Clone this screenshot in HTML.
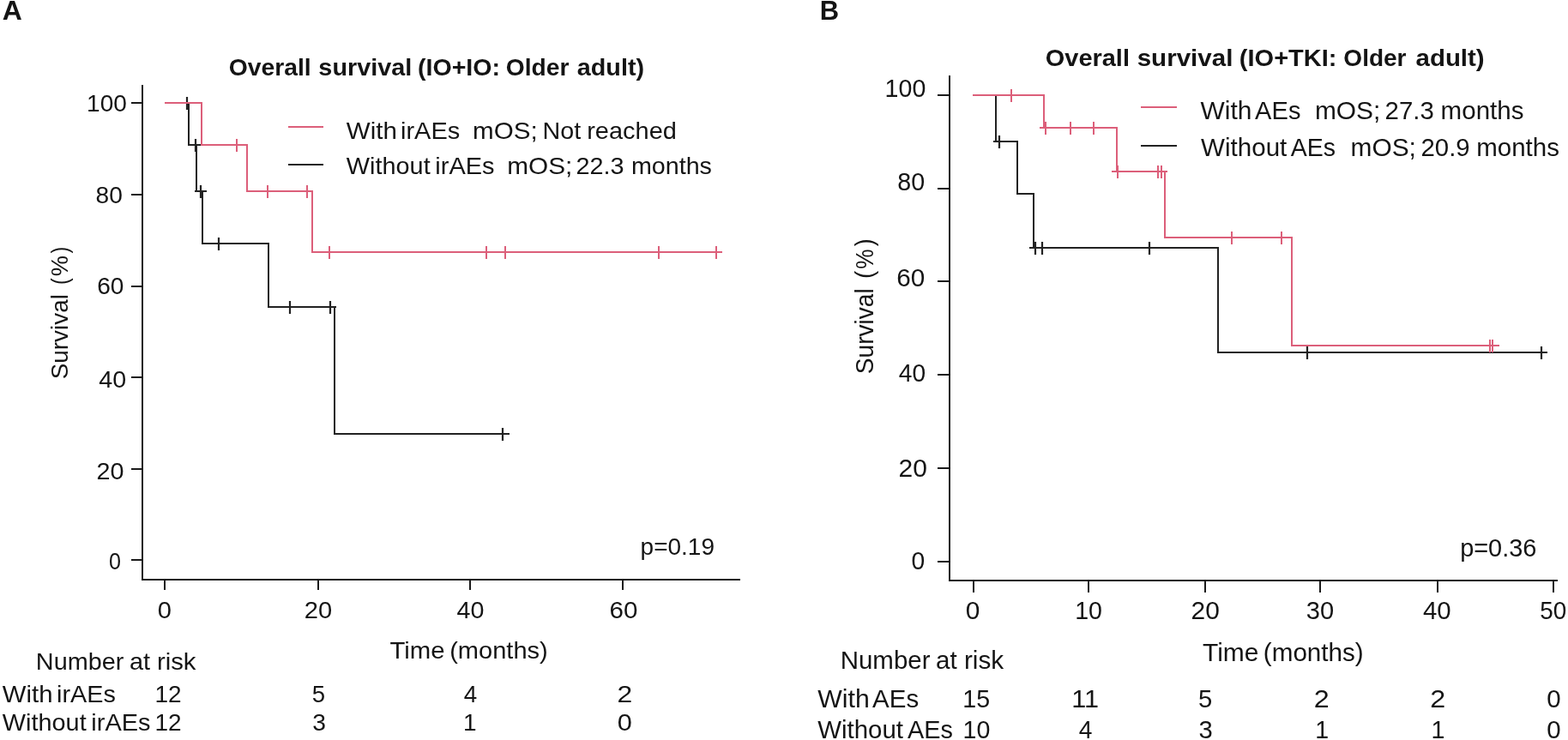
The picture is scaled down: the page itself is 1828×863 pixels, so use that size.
<!DOCTYPE html>
<html><head><meta charset="utf-8"><title>Overall survival (IO+IO / IO+TKI: Older adult)</title>
<style>
html,body{margin:0;padding:0;background:#fff;}
body{width:1828px;height:863px;overflow:hidden;}
svg{display:block;}
text{font-family:"Liberation Sans", Arial, sans-serif;fill:#141414;}
</style></head><body>
<svg width="1828" height="863" viewBox="0 0 1828 863">
<rect width="1828" height="863" fill="#fff"/>
<text x="2.71" y="22.8" font-size="31.5" font-weight="bold" textLength="23.04" lengthAdjust="spacingAndGlyphs">A</text>
<text x="266.64" y="87.6" font-size="28.5" font-weight="bold" textLength="96.07" lengthAdjust="spacingAndGlyphs">Overall</text>
<text x="371.39" y="87.6" font-size="28.5" font-weight="bold" textLength="108.95" lengthAdjust="spacingAndGlyphs">survival</text>
<text x="486.98" y="87.6" font-size="28.5" font-weight="bold" textLength="96.07" lengthAdjust="spacingAndGlyphs">(IO+IO:</text>
<text x="589.84" y="87.6" font-size="28.5" font-weight="bold" textLength="73.58" lengthAdjust="spacingAndGlyphs">Older</text>
<text x="672.86" y="87.6" font-size="28.5" font-weight="bold" textLength="78.17" lengthAdjust="spacingAndGlyphs">adult)</text>
<line x1="166" y1="99" x2="166" y2="677" stroke="#1a1a1a" stroke-width="2"/>
<line x1="165" y1="676" x2="863" y2="676" stroke="#1a1a1a" stroke-width="2"/>
<line x1="153" y1="120" x2="166" y2="120" stroke="#1a1a1a" stroke-width="2"/>
<line x1="153" y1="227" x2="166" y2="227" stroke="#1a1a1a" stroke-width="2"/>
<line x1="153" y1="334" x2="166" y2="334" stroke="#1a1a1a" stroke-width="2"/>
<line x1="153" y1="440" x2="166" y2="440" stroke="#1a1a1a" stroke-width="2"/>
<line x1="153" y1="547" x2="166" y2="547" stroke="#1a1a1a" stroke-width="2"/>
<line x1="153" y1="653" x2="166" y2="653" stroke="#1a1a1a" stroke-width="2"/>
<line x1="192" y1="676" x2="192" y2="688" stroke="#1a1a1a" stroke-width="2"/>
<line x1="371" y1="676" x2="371" y2="688" stroke="#1a1a1a" stroke-width="2"/>
<line x1="548" y1="676" x2="548" y2="688" stroke="#1a1a1a" stroke-width="2"/>
<line x1="726" y1="676" x2="726" y2="688" stroke="#1a1a1a" stroke-width="2"/>
<text x="101.12" y="130.3" font-size="28.0" textLength="46.72" lengthAdjust="spacingAndGlyphs">100</text>
<text x="111.58" y="237.2" font-size="28.0" textLength="31.32" lengthAdjust="spacingAndGlyphs">80</text>
<text x="113.27" y="343" font-size="28.0" textLength="31.22" lengthAdjust="spacingAndGlyphs">60</text>
<text x="115.24" y="451.7" font-size="28.0" textLength="31.88" lengthAdjust="spacingAndGlyphs">40</text>
<text x="112.55" y="558.5" font-size="28.0" textLength="31.97" lengthAdjust="spacingAndGlyphs">20</text>
<text x="127.12" y="664.1" font-size="28.0" textLength="13.96" lengthAdjust="spacingAndGlyphs">0</text>
<text x="183.66" y="720.7" font-size="28.0" textLength="16.17" lengthAdjust="spacingAndGlyphs">0</text>
<text x="354.83" y="720.7" font-size="28.0" textLength="32.4" lengthAdjust="spacingAndGlyphs">20</text>
<text x="532.64" y="720.7" font-size="28.0" textLength="31.88" lengthAdjust="spacingAndGlyphs">40</text>
<text x="710.5" y="720.7" font-size="28.0" textLength="32.85" lengthAdjust="spacingAndGlyphs">60</text>
<text x="746.6" y="647.1" font-size="28.0" textLength="86.42" lengthAdjust="spacingAndGlyphs">p=0.19</text>
<g transform="rotate(-90)">
<text x="-442.37" y="79" font-size="28.0" textLength="99.23" lengthAdjust="spacingAndGlyphs">Survival</text>
<text x="-332.03" y="79" font-size="28.0" textLength="7.66" lengthAdjust="spacingAndGlyphs">(</text>
<text x="-322.27" y="79" font-size="28.0" textLength="24.24" lengthAdjust="spacingAndGlyphs">%</text>
<text x="-295.43" y="79" font-size="28.0" textLength="7.54" lengthAdjust="spacingAndGlyphs">)</text>
</g>
<text x="454.45" y="767.5" font-size="28.0" textLength="64.03" lengthAdjust="spacingAndGlyphs">Time</text>
<text x="524.2" y="767.5" font-size="28.0" textLength="114.6" lengthAdjust="spacingAndGlyphs">(months)</text>
<text x="41.83" y="780.7" font-size="28.0" textLength="102.54" lengthAdjust="spacingAndGlyphs">Number</text>
<text x="150.97" y="780.7" font-size="28.0" textLength="24.14" lengthAdjust="spacingAndGlyphs">at</text>
<text x="182.95" y="780.7" font-size="28.0" textLength="45.6" lengthAdjust="spacingAndGlyphs">risk</text>
<text x="2.87" y="819.2" font-size="28.0" textLength="58.63" lengthAdjust="spacingAndGlyphs">With</text>
<text x="66.07" y="819.2" font-size="28.0" textLength="68.77" lengthAdjust="spacingAndGlyphs">irAEs</text>
<text x="180.42" y="819.2" font-size="28.0" textLength="31.14" lengthAdjust="spacingAndGlyphs">12</text>
<text x="363.79" y="819.2" font-size="28.0" textLength="15.37" lengthAdjust="spacingAndGlyphs">5</text>
<text x="540.86" y="819.2" font-size="28.0" textLength="15.45" lengthAdjust="spacingAndGlyphs">4</text>
<text x="719.4" y="819.2" font-size="28.0" textLength="17.7" lengthAdjust="spacingAndGlyphs">2</text>
<text x="2.87" y="852.2" font-size="28.0" textLength="97.84" lengthAdjust="spacingAndGlyphs">Without</text>
<text x="106.36" y="852.2" font-size="28.0" textLength="69.18" lengthAdjust="spacingAndGlyphs">irAEs</text>
<text x="180.42" y="852.2" font-size="28.0" textLength="31.14" lengthAdjust="spacingAndGlyphs">12</text>
<text x="364.22" y="852.2" font-size="28.0" textLength="15.72" lengthAdjust="spacingAndGlyphs">3</text>
<text x="539.93" y="852.2" font-size="28.0" textLength="15.57" lengthAdjust="spacingAndGlyphs">1</text>
<text x="719.8" y="852.2" font-size="28.0" textLength="17.1" lengthAdjust="spacingAndGlyphs">0</text>
<line x1="336" y1="148" x2="377" y2="148" stroke="#dc5f7a" stroke-width="2"/>
<line x1="336" y1="192" x2="377" y2="192" stroke="#222222" stroke-width="2"/>
<text x="403.87" y="162.1" font-size="28.0" textLength="59.05" lengthAdjust="spacingAndGlyphs">With</text>
<text x="467.06" y="162.1" font-size="28.0" textLength="69.18" lengthAdjust="spacingAndGlyphs">irAEs</text>
<text x="551.14" y="162.1" font-size="28.0" textLength="75.52" lengthAdjust="spacingAndGlyphs">mOS;</text>
<text x="632.55" y="162.1" font-size="28.0" textLength="44.66" lengthAdjust="spacingAndGlyphs">Not</text>
<text x="684.18" y="162.1" font-size="28.0" textLength="104.69" lengthAdjust="spacingAndGlyphs">reached</text>
<text x="403.87" y="203" font-size="28.0" textLength="97.84" lengthAdjust="spacingAndGlyphs">Without</text>
<text x="507.36" y="203" font-size="28.0" textLength="69.18" lengthAdjust="spacingAndGlyphs">irAEs</text>
<text x="591.32" y="203" font-size="28.0" textLength="76.05" lengthAdjust="spacingAndGlyphs">mOS;</text>
<text x="671.45" y="203" font-size="28.0" textLength="56.12" lengthAdjust="spacingAndGlyphs">22.3</text>
<text x="735.9" y="203" font-size="28.0" textLength="94.04" lengthAdjust="spacingAndGlyphs">months</text>
<path d="M220,119V169H229V223H236V284H313V358H390V506H594" fill="none" stroke="#222222" stroke-width="2"/>
<path d="M218,113V128" fill="none" stroke="#222222" stroke-width="2.2"/>
<path d="M228,162V177M234,216V231M255,277V292M338,351V366M385,351V366M586,499V514" fill="none" stroke="#222222" stroke-width="2.2"/>
<path d="M221,169H235M227,223H241M248,284H262M331,358H345M378,358H392M579,506H593" fill="none" stroke="#222222" stroke-width="2"/>
<path d="M192,120H235V169H288V223H364V294H842" fill="none" stroke="#dc5f7a" stroke-width="2"/>
<path d="M276,162V177M312,216V231M358,216V231M384,287V302M567,287V302M589,287V302M768,287V302M835,287V302" fill="none" stroke="#dc5f7a" stroke-width="2"/>
<path d="M269,169H283M305,223H319M351,223H365M377,294H391M560,294H574M582,294H596M761,294H775M828,294H842" fill="none" stroke="#dc5f7a" stroke-width="2"/>
<text x="955.83" y="22.8" font-size="31.5" font-weight="bold" textLength="22.38" lengthAdjust="spacingAndGlyphs">B</text>
<text x="1218.81" y="76.5" font-size="28.5" font-weight="bold" textLength="98.14" lengthAdjust="spacingAndGlyphs">Overall</text>
<text x="1325.66" y="76.5" font-size="28.5" font-weight="bold" textLength="111.73" lengthAdjust="spacingAndGlyphs">survival</text>
<text x="1444.85" y="76.5" font-size="28.5" font-weight="bold" textLength="113.64" lengthAdjust="spacingAndGlyphs">(IO+TKI:</text>
<text x="1566.35" y="76.5" font-size="28.5" font-weight="bold" textLength="73.17" lengthAdjust="spacingAndGlyphs">Older</text>
<text x="1650.54" y="76.5" font-size="28.5" font-weight="bold" textLength="80.13" lengthAdjust="spacingAndGlyphs">adult)</text>
<line x1="1107" y1="88" x2="1107" y2="678" stroke="#1a1a1a" stroke-width="2"/>
<line x1="1106" y1="677" x2="1816" y2="677" stroke="#1a1a1a" stroke-width="2"/>
<line x1="1093" y1="111" x2="1107" y2="111" stroke="#1a1a1a" stroke-width="2"/>
<line x1="1093" y1="220" x2="1107" y2="220" stroke="#1a1a1a" stroke-width="2"/>
<line x1="1093" y1="328" x2="1107" y2="328" stroke="#1a1a1a" stroke-width="2"/>
<line x1="1093" y1="437" x2="1107" y2="437" stroke="#1a1a1a" stroke-width="2"/>
<line x1="1093" y1="546" x2="1107" y2="546" stroke="#1a1a1a" stroke-width="2"/>
<line x1="1093" y1="655" x2="1107" y2="655" stroke="#1a1a1a" stroke-width="2"/>
<line x1="1135" y1="677" x2="1135" y2="691" stroke="#1a1a1a" stroke-width="2"/>
<line x1="1269" y1="677" x2="1269" y2="691" stroke="#1a1a1a" stroke-width="2"/>
<line x1="1405" y1="677" x2="1405" y2="691" stroke="#1a1a1a" stroke-width="2"/>
<line x1="1539" y1="677" x2="1539" y2="691" stroke="#1a1a1a" stroke-width="2"/>
<line x1="1676" y1="677" x2="1676" y2="691" stroke="#1a1a1a" stroke-width="2"/>
<line x1="1811" y1="677" x2="1811" y2="691" stroke="#1a1a1a" stroke-width="2"/>
<text x="1031.61" y="113.4" font-size="28.6" textLength="47.72" lengthAdjust="spacingAndGlyphs">100</text>
<text x="1046.36" y="221.9" font-size="28.6" textLength="31.86" lengthAdjust="spacingAndGlyphs">80</text>
<text x="1045.19" y="334.4" font-size="28.6" textLength="33.07" lengthAdjust="spacingAndGlyphs">60</text>
<text x="1047.86" y="444.8" font-size="28.6" textLength="31.24" lengthAdjust="spacingAndGlyphs">40</text>
<text x="1047.49" y="556.2" font-size="28.6" textLength="33.38" lengthAdjust="spacingAndGlyphs">20</text>
<text x="1062.5" y="663.9" font-size="28.6" textLength="15.71" lengthAdjust="spacingAndGlyphs">0</text>
<text x="1125.73" y="722.2" font-size="28.6" textLength="16.64" lengthAdjust="spacingAndGlyphs">0</text>
<text x="1253.16" y="722.2" font-size="28.6" textLength="31.81" lengthAdjust="spacingAndGlyphs">10</text>
<text x="1388.5" y="722.2" font-size="28.6" textLength="33.27" lengthAdjust="spacingAndGlyphs">20</text>
<text x="1522.89" y="722.2" font-size="28.6" textLength="32.34" lengthAdjust="spacingAndGlyphs">30</text>
<text x="1659.02" y="722.2" font-size="28.6" textLength="32.72" lengthAdjust="spacingAndGlyphs">40</text>
<text x="1795.28" y="722.2" font-size="28.6" textLength="31" lengthAdjust="spacingAndGlyphs">50</text>
<text x="1702.13" y="648.7" font-size="28.6" textLength="89.34" lengthAdjust="spacingAndGlyphs">p=0.36</text>
<g transform="rotate(-90)">
<text x="-436.17" y="1018.4" font-size="28.6" textLength="99.85" lengthAdjust="spacingAndGlyphs">Survival</text>
<text x="-325.03" y="1018.4" font-size="28.6" textLength="9.29" lengthAdjust="spacingAndGlyphs">(</text>
<text x="-313.63" y="1018.4" font-size="28.6" textLength="23.27" lengthAdjust="spacingAndGlyphs">%</text>
<text x="-287.35" y="1018.4" font-size="28.6" textLength="8.79" lengthAdjust="spacingAndGlyphs">)</text>
</g>
<text x="1401.94" y="771.3" font-size="28.6" textLength="65.47" lengthAdjust="spacingAndGlyphs">Time</text>
<text x="1472.86" y="771.3" font-size="28.6" textLength="116.87" lengthAdjust="spacingAndGlyphs">(months)</text>
<text x="979.68" y="780.4" font-size="28.6" textLength="104.81" lengthAdjust="spacingAndGlyphs">Number</text>
<text x="1091.14" y="780.4" font-size="28.6" textLength="24.67" lengthAdjust="spacingAndGlyphs">at</text>
<text x="1123.93" y="780.4" font-size="28.6" textLength="46.23" lengthAdjust="spacingAndGlyphs">risk</text>
<text x="953.27" y="825.1" font-size="28.6" textLength="60.5" lengthAdjust="spacingAndGlyphs">With</text>
<text x="1017.14" y="825.1" font-size="28.6" textLength="54.12" lengthAdjust="spacingAndGlyphs">AEs</text>
<text x="1122.36" y="825.1" font-size="28.6" textLength="31.81" lengthAdjust="spacingAndGlyphs">15</text>
<text x="1249.2" y="825.1" font-size="28.6" textLength="31.81" lengthAdjust="spacingAndGlyphs">11</text>
<text x="1397.03" y="825.1" font-size="28.6" textLength="16.3" lengthAdjust="spacingAndGlyphs">5</text>
<text x="1531.88" y="825.1" font-size="28.6" textLength="17.95" lengthAdjust="spacingAndGlyphs">2</text>
<text x="1667.28" y="825.1" font-size="28.6" textLength="17.95" lengthAdjust="spacingAndGlyphs">2</text>
<text x="1803.35" y="825.1" font-size="28.6" textLength="16.4" lengthAdjust="spacingAndGlyphs">0</text>
<text x="953.27" y="861" font-size="28.6" textLength="99.64" lengthAdjust="spacingAndGlyphs">Without</text>
<text x="1058.04" y="861" font-size="28.6" textLength="52.9" lengthAdjust="spacingAndGlyphs">AEs</text>
<text x="1122.61" y="861" font-size="28.6" textLength="31.81" lengthAdjust="spacingAndGlyphs">10</text>
<text x="1257.75" y="861" font-size="28.6" textLength="15.67" lengthAdjust="spacingAndGlyphs">4</text>
<text x="1397.58" y="861" font-size="28.6" textLength="16.3" lengthAdjust="spacingAndGlyphs">3</text>
<text x="1533.21" y="861" font-size="28.6" textLength="15.91" lengthAdjust="spacingAndGlyphs">1</text>
<text x="1668.41" y="861" font-size="28.6" textLength="15.91" lengthAdjust="spacingAndGlyphs">1</text>
<text x="1803.35" y="861" font-size="28.6" textLength="16.4" lengthAdjust="spacingAndGlyphs">0</text>
<line x1="1330" y1="125" x2="1372" y2="125" stroke="#dc5f7a" stroke-width="2"/>
<line x1="1330" y1="170" x2="1372" y2="170" stroke="#222222" stroke-width="2"/>
<text x="1399.47" y="138.9" font-size="28.6" textLength="59.88" lengthAdjust="spacingAndGlyphs">With</text>
<text x="1463.14" y="138.9" font-size="28.6" textLength="53.31" lengthAdjust="spacingAndGlyphs">AEs</text>
<text x="1532.92" y="138.9" font-size="28.6" textLength="76.37" lengthAdjust="spacingAndGlyphs">mOS;</text>
<text x="1614.62" y="138.9" font-size="28.6" textLength="57.17" lengthAdjust="spacingAndGlyphs">27.3</text>
<text x="1679.64" y="138.9" font-size="28.6" textLength="96.83" lengthAdjust="spacingAndGlyphs">months</text>
<text x="1400.07" y="182" font-size="28.6" textLength="100.25" lengthAdjust="spacingAndGlyphs">Without</text>
<text x="1504.84" y="182" font-size="28.6" textLength="52.29" lengthAdjust="spacingAndGlyphs">AEs</text>
<text x="1574.52" y="182" font-size="28.6" textLength="76.37" lengthAdjust="spacingAndGlyphs">mOS;</text>
<text x="1656.52" y="182" font-size="28.6" textLength="57.17" lengthAdjust="spacingAndGlyphs">20.9</text>
<text x="1721.24" y="182" font-size="28.6" textLength="96.72" lengthAdjust="spacingAndGlyphs">months</text>
<path d="M1161,110V165H1186V226H1205V289H1420V411H1804" fill="none" stroke="#222222" stroke-width="2"/>
<path d="M1165,158V173M1207,282V297M1215,282V297M1340,282V297M1524,404V419M1797,404V419" fill="none" stroke="#222222" stroke-width="2.2"/>
<path d="M1158,165H1172M1200,289H1214M1208,289H1222M1333,289H1347M1517,411H1531M1790,411H1804" fill="none" stroke="#222222" stroke-width="2"/>
<path d="M1134,111H1217V149H1302V200H1358V277H1506V403H1748" fill="none" stroke="#dc5f7a" stroke-width="2"/>
<path d="M1179,104V119M1219,142V157M1248,142V157M1275,142V157M1303,193V208M1350,193V208M1354,193V208M1436,270V285M1494,270V285M1737,396V411M1740,396V411" fill="none" stroke="#dc5f7a" stroke-width="2"/>
<path d="M1172,111H1186M1212,149H1226M1241,149H1255M1268,149H1282M1296,200H1310M1343,200H1357M1347,200H1361M1429,277H1443M1487,277H1501M1730,403H1744M1733,403H1747" fill="none" stroke="#dc5f7a" stroke-width="2"/>
</svg>
</body></html>
